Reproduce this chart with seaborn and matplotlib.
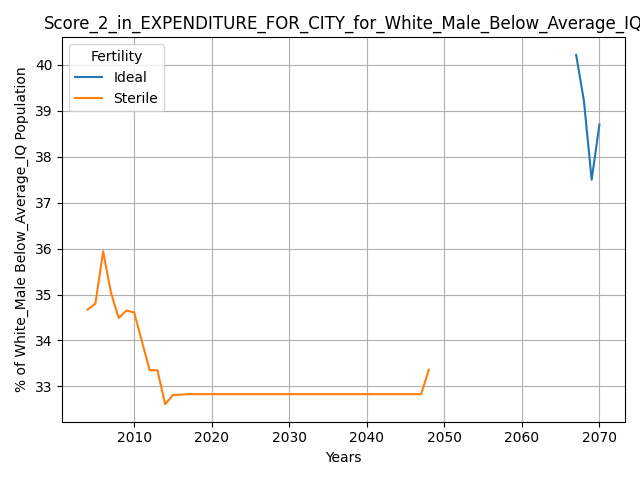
import pandas as pd
import matplotlib
matplotlib.use("Agg")
import matplotlib.pyplot as plt
import seaborn as sns

# datos
ideal_years = [2067, 2068, 2069, 2070]
ideal_values = [40.22, 39.22, 37.5, 38.7]

sterile_years = list(range(2004, 2049))
sterile_values = [34.67, 34.8, 35.94, 35.05, 34.49, 34.65, 34.61, 33.98, 33.35, 33.35,
                  32.61, 32.81, 32.82] + [32.83] * 31 + [33.36]

df = pd.concat([
    pd.DataFrame({'Years': ideal_years, 'value': ideal_values, 'Fertility': 'Ideal'}),
    pd.DataFrame({'Years': sterile_years, 'value': sterile_values, 'Fertility': 'Sterile'}),
])

plt.figure(figsize=(6.4, 4.8), dpi=100)
ax = sns.lineplot(data=df, x='Years', y='value', hue='Fertility',
                  palette=['#1f77b4', '#ff7f0e'])
ax.grid(True)
ax.set_xlabel('Years')
ax.set_ylabel('% of White_Male Below_Average_IQ Population')
ax.set_title('Score_2_in_EXPENDITURE_FOR_CITY_for_White_Male_Below_Average_IQ')
ax.legend(title='Fertility', loc='upper left')
plt.tight_layout()
plt.savefig('out.png', dpi=100)
